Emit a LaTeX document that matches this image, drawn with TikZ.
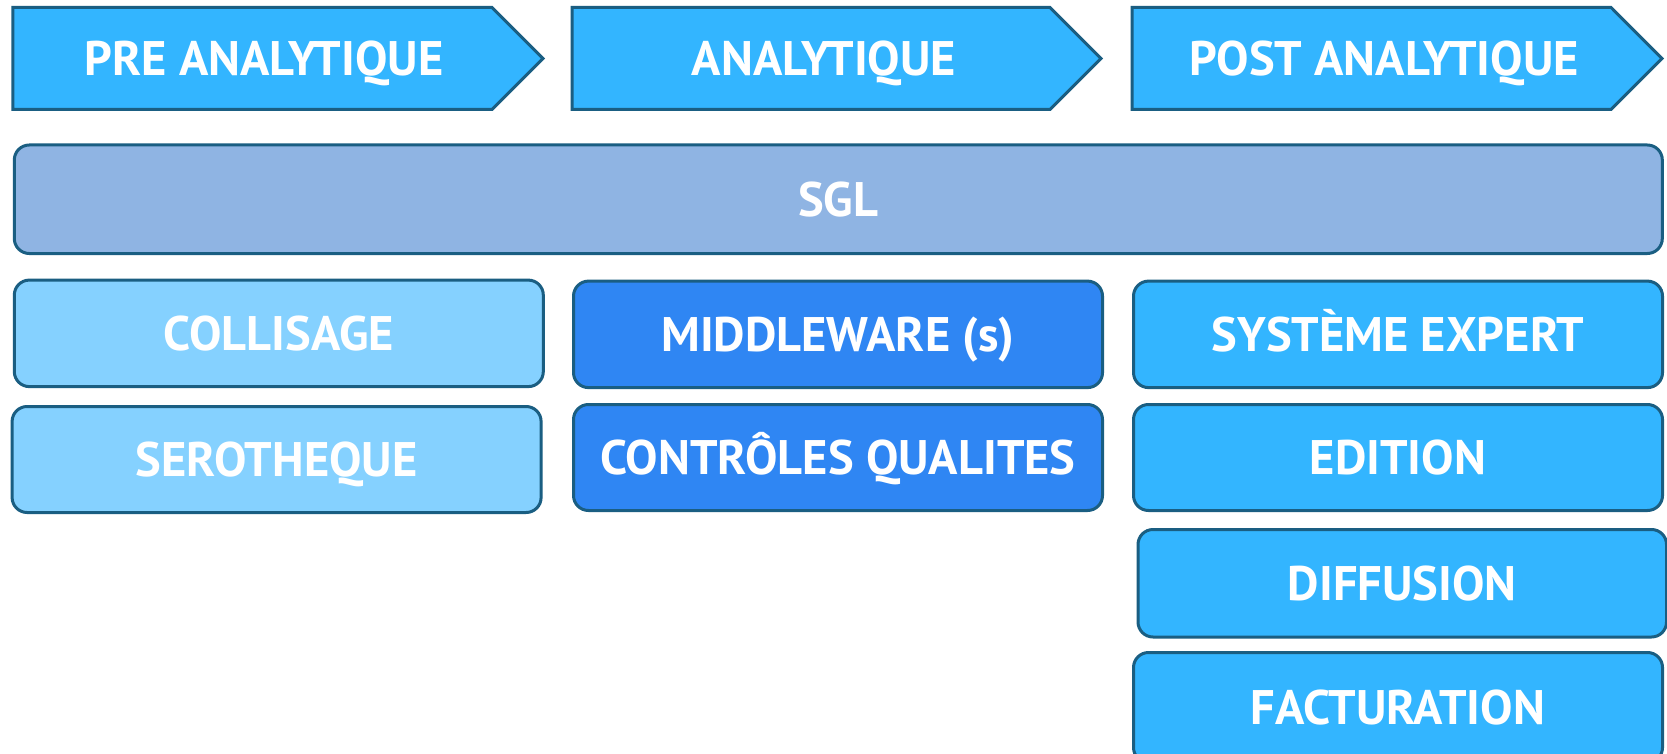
\documentclass[tikz,border=0pt]{standalone}
\usepackage{fontspec}
\setmainfont{PT Sans}
\definecolor{hdrblue}{RGB}{51,181,255}
\definecolor{sglblue}{RGB}{143,180,227}
\definecolor{preblue}{RGB}{133,209,255}
\definecolor{anablue}{RGB}{47,134,243}
\definecolor{edgeblue}{RGB}{26,94,130}
\tikzset{
  lbl/.style={text=white, font=\bfseries\fontsize{48.5}{50}\selectfont, inner sep=0pt, text height=34pt, text depth=0pt},
  hdrshape/.style={fill=hdrblue, draw=edgeblue, line width=3pt, line join=miter},
  box/.style={lbl, draw=edgeblue, line width=3pt, rounded corners=15pt, anchor=north west},
  prebox/.style={box, fill=preblue},
  anabox/.style={box, fill=anablue},
  postbox/.style={box, fill=hdrblue},
}
\begin{document}
\begin{tikzpicture}[x=1pt,y=-1pt]
\clip (0,0) rectangle (1667,754);
\fill[white] (0,0) rectangle (1667,754);
% headers
\draw[hdrshape] (12.8,7.4) -- (492,7.4) -- (543,58.5) -- (492,109.5) -- (12.8,109.5) -- cycle;
\node[lbl] (pre) at (264,58.5) {PRE ANALYTIQUE};
\draw[hdrshape] (572,7.4) -- (1050,7.4) -- (1101,58.5) -- (1050,109.5) -- (572,109.5) -- cycle;
\node[lbl] (ana) at (824,58.5) {ANALYTIQUE};
\draw[hdrshape] (1132,7.4) -- (1611,7.4) -- (1662,58.5) -- (1611,109.5) -- (1132,109.5) -- cycle;
\node[lbl] (post) at (1384,58.5) {POST ANALYTIQUE};
% SGL
\node[box, fill=sglblue, minimum width=1648pt, minimum height=108.5pt] (sgl) at (12.8,143.5) {SGL};
% pre column
\node[prebox, minimum width=529pt, minimum height=106.5pt] (coll) at (12.8,278.6) {COLLISAGE};
\node[prebox, minimum width=529pt, minimum height=106pt] (sero) at (10.6,405) {SEROTHEQUE};
% analytique column
\node[anabox, minimum width=529pt, minimum height=106.5pt] (mid) at (572,279.6) {MIDDLEWARE (s)};
\node[anabox, minimum width=529pt, minimum height=106pt] (cq) at (572,403) {CONTRÔLES QUALITES};
% post column
\node[postbox, minimum width=529pt, minimum height=106.5pt] (sys) at (1132,279.6) {SYSTÈME EXPERT};
\node[postbox, minimum width=529pt, minimum height=106pt] (edi) at (1132,403) {EDITION};
\node[postbox, minimum width=528.5pt, minimum height=107.5pt] (dif) at (1136.5,528) {DIFFUSION};
\node[postbox, minimum width=529pt, minimum height=110pt] (fac) at (1132,651) {FACTURATION};
\end{tikzpicture}
\end{document}
